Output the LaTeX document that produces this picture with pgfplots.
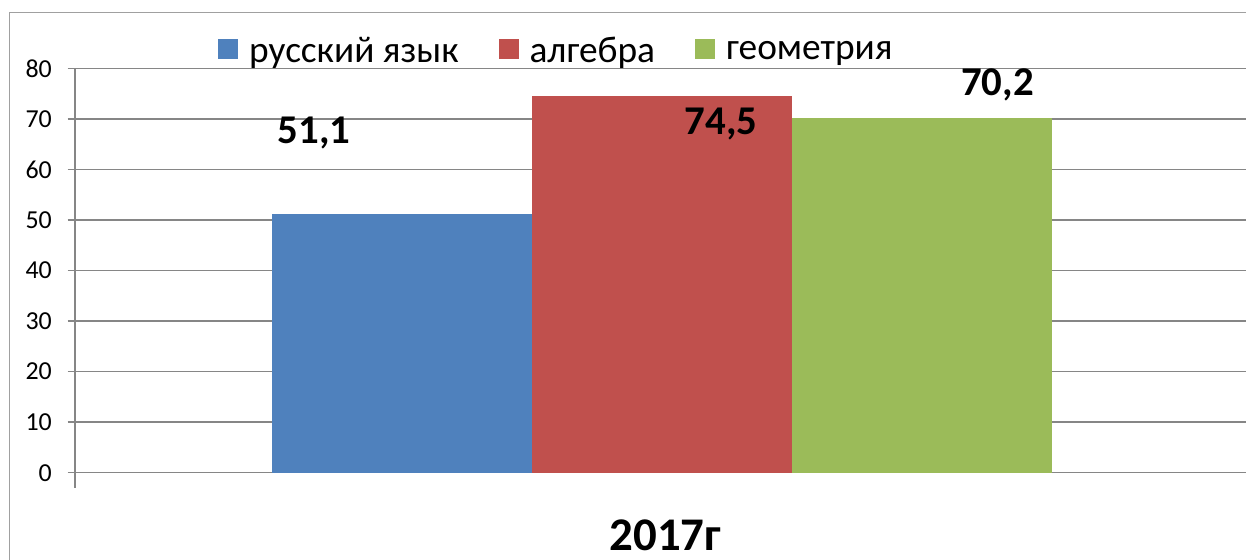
\documentclass[border=0pt]{standalone}
\usepackage{pgfplots}
\pgfplotsset{compat=1.18}
\usepackage{fontspec}
\setmainfont{Carlito}
\definecolor{gridc}{HTML}{868686}
\definecolor{framec}{HTML}{A0A0A0}
\definecolor{cblue}{HTML}{4F81BD}
\definecolor{cred}{HTML}{C0504D}
\definecolor{cgreen}{HTML}{9BBB59}
\begin{document}
\begin{tikzpicture}[x=1bp,y=1bp]
\useasboundingbox (0,0) rectangle (1246,560);
\begin{scope}
\clip (0,0) rectangle (1246,560);
\draw[framec, line width=1.5bp] (9.5,547.5) rectangle (1300,-50);
\end{scope}
\begin{axis}[
  at={(75bp,87.3bp)}, anchor=south west,
  width=1173bp, height=404.4bp, scale only axis,
  xmin=-1, xmax=1, ymin=0, ymax=80,
  ybar=0pt, bar width=260bp,
  axis x line*=bottom, axis y line*=left,
  axis line style={gridc, line width=1.5bp},
  xtick=\empty,
  ytick={0,10,...,80},
  ymajorgrids, grid style={gridc, line width=1.5bp},
  tick style={gridc, line width=1.5bp},
  tick align=outside, major tick length=7.5bp,
  /pgf/number format/assume math mode=true,
  yticklabel style={font=\fontsize{26}{28}\selectfont, inner sep=0pt, xshift=-15.5bp},
  clip=false,
  legend columns=3,
  legend style={draw=none, fill=none, at={(0.1219,1.0428)}, anchor=west, inner sep=0pt,
    font=\fontsize{37.5}{40}\selectfont,
    /tikz/every odd column/.append style={column sep=11bp},
    /tikz/every even column/.append style={column sep=40bp},
    nodes={inner sep=0pt, anchor=west, yshift=-2bp}},
  legend image code/.code={\fill[#1, draw=none] (0bp,-10bp) rectangle (20bp,10bp);},
  nodes near coords={\pgfmathprintnumber[fixed, precision=1, fixed zerofill, use comma, assume math mode=true]{\pgfplotspointmeta}},
]
\addplot[fill=cblue, draw=none, every node near coord/.append style={anchor=base, xshift=-87.5bp, yshift=70.4bp, font=\fontsize{41}{44}\selectfont\bfseries, black}] coordinates {(0,51.1)};
\addplot[fill=cred, draw=none, every node near coord/.append style={anchor=base, xshift=59.5bp, yshift=-38.9bp, font=\fontsize{41}{44}\selectfont\bfseries, black}] coordinates {(0,74.5)};
\addplot[fill=cgreen, draw=none, every node near coord/.append style={anchor=base, xshift=76bp, yshift=22.8bp, font=\fontsize{41}{44}\selectfont\bfseries, black}] coordinates {(0,70.2)};
\legend{русский язык, алгебра, геометрия}
\draw[gridc, line width=1.5bp] (axis cs:-1,0) -- ([yshift=-15bp]axis cs:-1,0);
\draw[gridc, line width=1.5bp] (axis cs:1,0) -- ([yshift=-15bp]axis cs:1,0);
\end{axis}
\node[anchor=base, font=\fontsize{47}{50}\selectfont\bfseries, inner sep=0pt] at (665.5,9) {2017г};
\end{tikzpicture}
\end{document}
